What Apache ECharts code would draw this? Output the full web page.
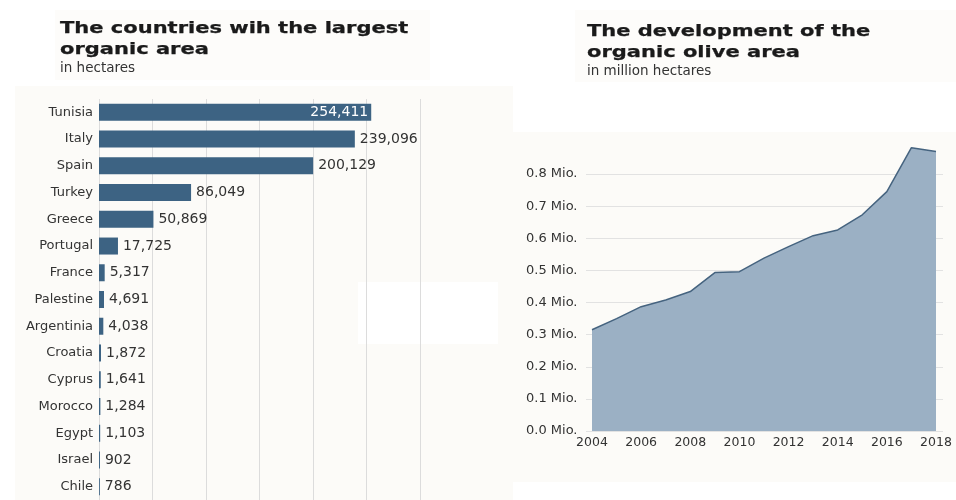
<!DOCTYPE html>
<html><head><meta charset="utf-8">
<script src="https://cdn.jsdelivr.net/npm/echarts@6/dist/echarts.min.js"></script>
<style>html,body{margin:0;padding:0;background:#fff}#c{width:956px;height:500px}</style>
</head><body><div id="c"></div>
<script>
var countries = ['Tunisia','Italy','Spain','Turkey','Greece','Portugal','France','Palestine','Argentinia','Croatia','Cyprus','Morocco','Egypt','Israel','Chile'];
var hectares = [254411,239096,200129,86049,50869,17725,5317,4691,4038,1872,1641,1284,1103,902,786];
var years = ['2004','2005','2006','2007','2008','2009','2010','2011','2012','2013','2014','2015','2016','2017','2018'];
var oliveArea = [0.315,0.350,0.387,0.408,0.434,0.493,0.496,0.538,0.574,0.608,0.626,0.673,0.745,0.882,0.870];
var yTicks = [0,0.1,0.2,0.3,0.4,0.5,0.6,0.7,0.8];
var leftTitle = ['The countries wih the largest','organic area'];
var leftSub = 'in hectares';
var rightTitle = ['The development of the','organic olive area'];
var rightSub = 'in million hectares';

var BAR = '#3d6383';
var TXT = '#333';
var FONT = '"DejaVu Sans", sans-serif';
var TFONT = '"DejaVu Sans", sans-serif';
function fmt(v){ return v.toLocaleString('en-US'); }

function titleText(str, x, y){
  return {type:'text', x:x, y:y, scaleX:1.4, z:10,
    style:{text:str, x:0, y:0, fill:'#1a1a1a', stroke:'#1a1a1a', lineWidth:0.25,
      font:'bold 15px ' + TFONT, verticalAlign:'middle', align:'left'}};
}
function subText(str, x, y){
  return {type:'text', x:x, y:y, z:10,
    style:{text:str, x:0, y:0, fill:'#333', font:'13.5px ' + FONT, verticalAlign:'middle', align:'left'}};
}

var chart = echarts.init(document.getElementById('c'), null, {renderer:'canvas'});
chart.setOption({
  backgroundColor: '#fff',
  animation: false,
  graphic: [
    {type:'rect', z:-10, shape:{x:15,y:86,width:498,height:414}, style:{fill:'#fcfbf8'}},
    {type:'rect', z:-10, shape:{x:55,y:10,width:375,height:70}, style:{fill:'#fdfcfa'}},
    {type:'rect', z:-10, shape:{x:575,y:10,width:381,height:72}, style:{fill:'#fdfcfa'}},
    {type:'rect', z:-10, shape:{x:510,y:132,width:446,height:350}, style:{fill:'#fcfbf8'}},
    {type:'rect', z:-9, shape:{x:358,y:282,width:140,height:62}, style:{fill:'#ffffff'}},
    titleText(leftTitle[0], 60, 29.5),
    titleText(leftTitle[1], 60, 50.5),
    subText(leftSub, 60, 68.5),
    titleText(rightTitle[0], 587, 32.5),
    titleText(rightTitle[1], 587, 53.5),
    subText(rightSub, 587, 71)
  ],
  grid: [
    {left:99, right:536, top:99, bottom:0},
    {left:586, right:13, top:174, bottom:69},
    {left:592, right:20, top:174, bottom:69}
  ],
  xAxis: [
    {gridIndex:0, type:'value', min:0, max:300000, interval:50000,
     axisLabel:{show:false}, axisLine:{show:false}, axisTick:{show:false},
     splitLine:{lineStyle:{color:'#dcdcdc', width:1}}},
    {gridIndex:1, type:'value', min:0, max:1, show:false},
    {gridIndex:2, type:'category', data:years, boundaryGap:false,
     axisLine:{show:false}, axisTick:{show:false},
     axisLabel:{interval:1, margin:5, fontFamily:FONT, fontSize:12.5, color:TXT}}
  ],
  yAxis: [
    {gridIndex:0, type:'category', data:countries, inverse:true,
     axisLine:{show:false}, axisTick:{show:false},
     axisLabel:{margin:6, fontFamily:FONT, fontSize:13, color:TXT}},
    {gridIndex:1, type:'value', min:0, max:0.8, interval:0.1,
     axisLine:{show:false}, axisTick:{show:false},
     axisLabel:{align:'left', margin:60, fontFamily:FONT, fontSize:13, color:TXT,
       formatter:function(v){ return v.toFixed(1)+' Mio.'; }},
     splitLine:{lineStyle:{color:'#e2e2e2'}}},
    {gridIndex:2, type:'value', min:0, max:0.8, interval:0.1, show:false}
  ],
  series: [
    {type:'bar', xAxisIndex:0, yAxisIndex:0, barWidth:17,
     itemStyle:{color:BAR},
     label:{show:true, position:'right', distance:5, fontFamily:FONT, fontSize:14, color:TXT,
       formatter:function(p){ return fmt(p.value); }},
     data: hectares.map(function(v,i){
       if(i===0) return {value:v, label:{position:'insideRight', color:'#fff', distance:3}};
       return v;
     })},
    {type:'line', xAxisIndex:2, yAxisIndex:2, data:oliveArea, clip:false,
     symbol:'none', lineStyle:{color:'#45637f', width:1.5},
     areaStyle:{color:'#9bb0c4', opacity:1}}
  ]
});
</script></body></html>
